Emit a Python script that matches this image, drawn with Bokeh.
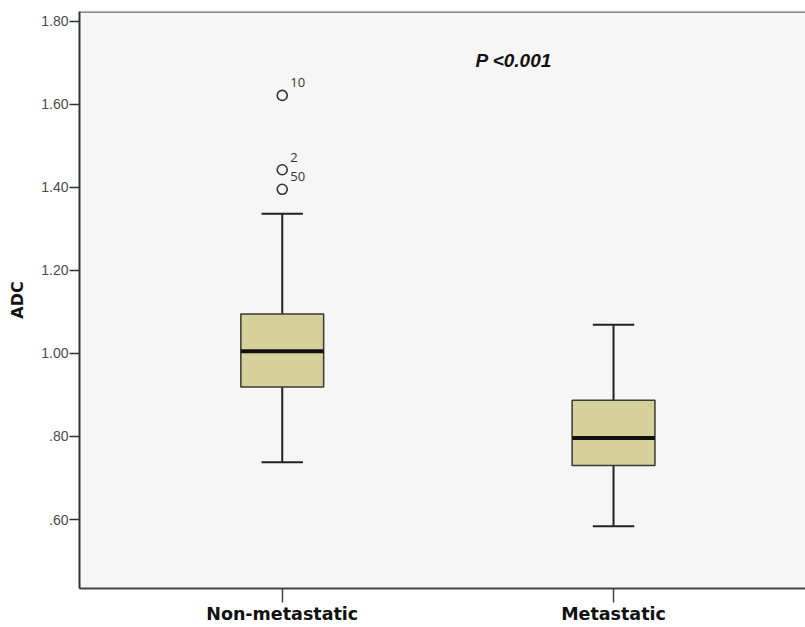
from bokeh.plotting import figure
from bokeh.models import Range1d, FixedTicker, Span, Label, ColumnDataSource
from bokeh.core.properties import value
from bokeh.embed import file_html
from bokeh.resources import INLINE
import numpy as np

# ---- data ----
categories = ["Non-metastatic", "Metastatic"]
cat_pos = [1, 2]
q1 = [0.919, 0.730]
median = [1.005, 0.796]
q3 = [1.095, 0.887]
whisker_low = [0.738, 0.584]
whisker_high = [1.336, 1.069]
outlier_cat = [1, 1, 1]
outlier_val = [1.621, 1.442, 1.395]
outlier_ids = ["10", "2", "50"]
y_ticks = [0.6, 0.8, 1.0, 1.2, 1.4, 1.6, 1.8]
y_tick_labels = [".60", ".80", "1.00", "1.20", "1.40", "1.60", "1.80"]
p_text = "P <0.001"

BOX_W = 0.25
CAP_W = 0.125

p = figure(frame_width=726, frame_height=577, output_backend="svg", toolbar_location=None,
           x_range=Range1d(0.388, 2.5795), y_range=Range1d(0.434, 1.823),
           min_border_left=79, min_border_right=0, min_border_top=11, min_border_bottom=10)

p.background_fill_color = "#f6f6f6"
p.border_fill_color = "white"
p.outline_line_color = None
p.xgrid.visible = False
p.ygrid.visible = False

x = np.array(cat_pos, dtype=float)
src = ColumnDataSource(dict(x=x, q1=q1, q3=q3, med=median, lo=whisker_low, hi=whisker_high,
                            xl=x - BOX_W / 2, xr=x + BOX_W / 2,
                            cl=x - CAP_W / 2, cr=x + CAP_W / 2))

# whiskers
p.segment(x0="x", y0="q3", x1="x", y1="hi", source=src, line_color="#222222", line_width=2)
p.segment(x0="x", y0="lo", x1="x", y1="q1", source=src, line_color="#222222", line_width=2)
p.segment(x0="cl", y0="hi", x1="cr", y1="hi", source=src, line_color="#222222", line_width=2)
p.segment(x0="cl", y0="lo", x1="cr", y1="lo", source=src, line_color="#222222", line_width=2)
# boxes
p.vbar(x="x", width=BOX_W, bottom="q1", top="q3", source=src,
       fill_color="#d6d09a", line_color="#3a3a30", line_width=1.5)
# median
p.segment(x0="xl", y0="med", x1="xr", y1="med", source=src, line_color="#111111", line_width=4)

# outliers
osrc = ColumnDataSource(dict(x=outlier_cat, y=outlier_val, t=outlier_ids))
p.scatter(x="x", y="y", source=osrc, marker="circle", size=10, fill_color="#f6f6f6",
          line_color="#333333", line_width=1.6)
p.text(x="x", y="y", text="t", source=osrc, x_offset=8, y_offset=-8,
       text_align="left", text_baseline="bottom", text_font=value("Open Sans"),
       text_font_size="13px", text_color="#333333")

# p-value annotation
p.add_layout(Label(x=1.583, y=1.705, text=p_text, text_font="Liberation Sans",
                   text_font_style="bold italic", text_font_size="19px",
                   text_color="#111111", text_align="left", text_baseline="middle"))

# top border
p.add_layout(Span(location=1.823, dimension="width", line_color="#6a6a6a", line_width=2.5))

# axes
p.xaxis.ticker = FixedTicker(ticks=cat_pos)
p.xaxis.major_label_overrides = {pos: c for pos, c in zip(cat_pos, categories)}
p.xaxis.major_label_text_font = "DejaVu Sans"
p.xaxis.major_label_text_font_style = "bold"
p.xaxis.major_label_text_font_size = "17.5px"
p.xaxis.major_label_text_color = "#111111"
p.xaxis.major_tick_in = 0
p.xaxis.major_tick_out = 14
p.xaxis.minor_tick_line_color = None
p.xaxis.axis_line_color = "#444444"
p.xaxis.axis_line_width = 2
p.xaxis.major_tick_line_color = "#444444"
p.xaxis.major_tick_line_width = 1.5
p.xaxis.major_label_standoff = 1

p.yaxis.ticker = FixedTicker(ticks=y_ticks)
p.yaxis.major_label_overrides = {t: l for t, l in zip(y_ticks, y_tick_labels)}
p.yaxis.major_label_text_font = "Liberation Sans"
p.yaxis.major_label_text_font_size = "14px"
p.yaxis.major_label_text_color = "#4a4a4a"
p.yaxis.major_tick_in = 0
p.yaxis.major_tick_out = 10
p.yaxis.minor_tick_line_color = None
p.yaxis.axis_line_color = "#333333"
p.yaxis.axis_line_width = 2
p.yaxis.major_tick_line_color = "#333333"
p.yaxis.major_tick_line_width = 1.5
p.yaxis.major_label_standoff = 1
p.yaxis.axis_label = "ADC"
p.yaxis.axis_label_text_font = "DejaVu Sans"
p.yaxis.axis_label_text_font_style = "bold"
p.yaxis.axis_label_text_font_size = "16px"
p.yaxis.axis_label_text_color = "#111111"
p.yaxis.axis_label_standoff = 11

open("out.html", "w").write(file_html(p, INLINE))
